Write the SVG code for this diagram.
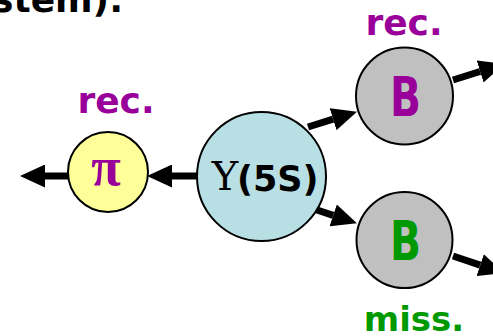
<svg xmlns="http://www.w3.org/2000/svg" width="493" height="336" viewBox="0 0 493 336">
<style>
.node{stroke:#000;stroke-width:2}
.lbl{font-family:"DejaVu Sans","Liberation Sans",sans-serif;font-weight:bold}
.conn{stroke:#000;stroke-width:7;fill:none}
.purple{fill:#990099}
.green{fill:#009900}
</style>
<defs>
<marker id="ah" markerUnits="userSpaceOnUse" markerWidth="25" markerHeight="23" viewBox="0 0 25 23" refX="0" refY="11.5" orient="auto">
<path d="M0,0 L25,11.5 L0,23 Z" fill="#000"/>
</marker>
</defs>
<rect width="493" height="336" fill="#fff"/>
<text class="lbl" x="-8" y="12" font-size="36" fill="#000">stem):</text>
<g id="connectors">
<line class="conn" x1="68" y1="176" x2="45" y2="176" marker-end="url(#ah)"/>
<line class="conn" x1="197" y1="176" x2="172" y2="176" marker-end="url(#ah)"/>
<line class="conn" x1="308" y1="127" x2="333.1" y2="119.2" marker-end="url(#ah)"/>
<line class="conn" x1="453" y1="80" x2="480.1" y2="71.5" marker-end="url(#ah)"/>
<line class="conn" x1="308" y1="207" x2="333.2" y2="215.4" marker-end="url(#ah)"/>
<line class="conn" x1="453" y1="256" x2="480.2" y2="265.1" marker-end="url(#ah)"/>
</g>
<g id="pi">
<circle class="node" cx="108" cy="172" r="40" fill="#ffff99"/>
<text x="106" y="185" text-anchor="middle" font-family="'Liberation Serif','DejaVu Serif',serif" font-weight="bold" font-size="54" class="purple">π</text>
<text class="lbl purple" x="116" y="113" text-anchor="middle" font-size="36">rec.</text>
</g>
<g id="upsilon">
<circle class="node" cx="261.5" cy="176.5" r="64.5" fill="#b8dfe3"/>
<text x="225" y="190" text-anchor="middle" font-family="'DejaVu Serif','Liberation Serif',serif" font-size="40" fill="#000">Υ</text>
<text class="lbl" x="237" y="191" font-size="35" fill="#000">(5S)</text>
</g>
<g id="B1">
<circle class="node" cx="404.5" cy="96" r="48.5" fill="#c0c0c0"/>
<text class="lbl purple" x="390" y="116" font-size="56" textLength="31" lengthAdjust="spacingAndGlyphs">B</text>
<text class="lbl purple" x="404" y="35" text-anchor="middle" font-size="36">rec.</text>
</g>
<g id="B2">
<circle class="node" cx="404.5" cy="240" r="48" fill="#c0c0c0"/>
<text class="lbl green" x="390" y="260" font-size="56" textLength="31" lengthAdjust="spacingAndGlyphs">B</text>
<text class="lbl green" x="414" y="331" text-anchor="middle" font-size="34">miss.</text>
</g>
</svg>
